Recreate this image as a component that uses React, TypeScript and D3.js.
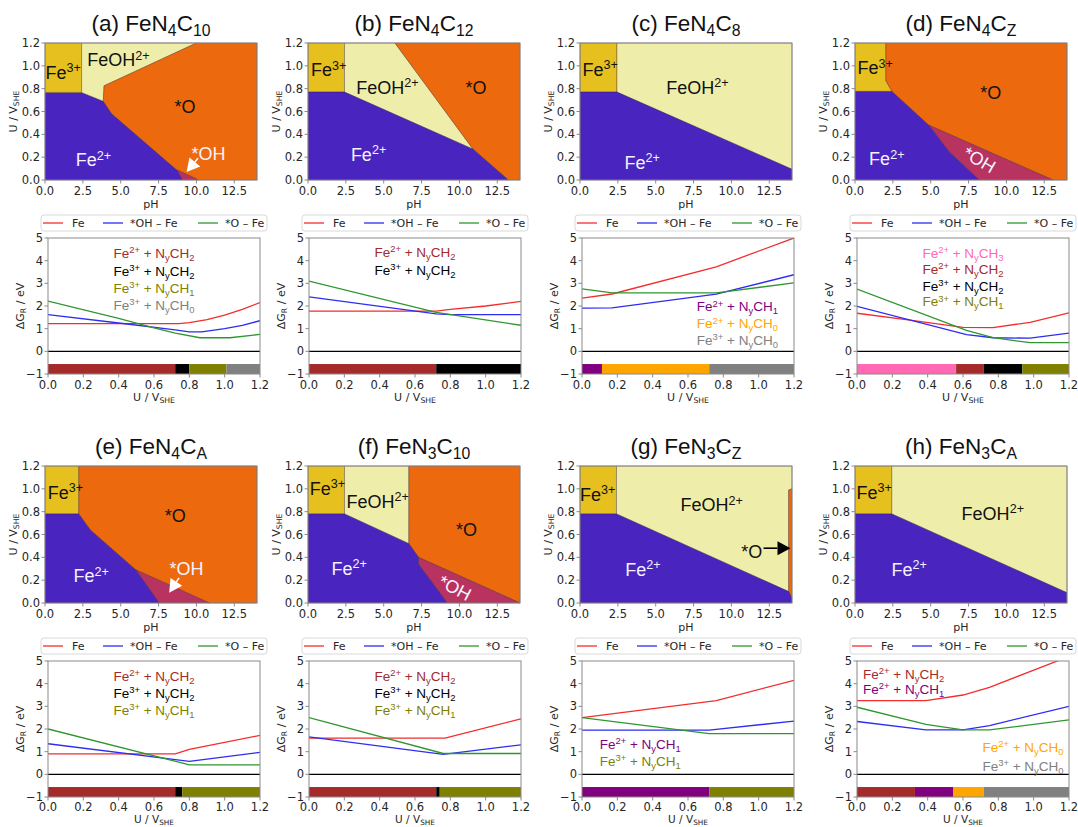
import React from "react";
import * as d3 from "d3";

type Pt = [number, number];

const FONT_TXT = "'Liberation Sans', Arial, sans-serif";
const FONT_AX = "'DejaVu Sans', sans-serif";

const phTicks = [0, 2.5, 5, 7.5, 10, 12.5];
const uTicks = [0, 0.2, 0.4, 0.6, 0.8, 1.0, 1.2];
const dgTicks = [-1, 0, 1, 2, 3, 4, 5];

const titles = [
  "(a) FeN_{4}C_{10}",
  "(b) FeN_{4}C_{12}",
  "(c) FeN_{4}C_{8}",
  "(d) FeN_{4}C_{Z}",
  "(e) FeN_{4}C_{A}",
  "(f) FeN_{3}C_{10}",
  "(g) FeN_{3}C_{Z}",
  "(h) FeN_{3}C_{A}",
];

const regionNames = ["Fe3+", "FeOH2+", "*O", "Fe2+", "*OH"];
const regionColors = ["#e6c01e", "#eeeeaa", "#ec6a0d", "#4a24be", "#b8335f"];
const regionColor = d3.scaleOrdinal<string, string>(regionNames, regionColors);

const species = [
  "Fe^{2+} + N_{y}CH_{3}",
  "Fe^{2+} + N_{y}CH_{2}",
  "Fe^{3+} + N_{y}CH_{2}",
  "Fe^{3+} + N_{y}CH_{1}",
  "Fe^{3+} + N_{y}CH_{0}",
  "Fe^{2+} + N_{y}CH_{1}",
  "Fe^{2+} + N_{y}CH_{0}",
];
const speciesColors = ["#ff69b4", "#a52a2a", "#000000", "#808000", "#808080", "#800080", "#ffa500"];
const speciesColor = d3.scaleOrdinal<string, string>(species, speciesColors);

const seriesNames = ["Fe", "*OH – Fe", "*O – Fe"];
const seriesColors = ["#f42c2c", "#2c2cf4", "#2f962f"];

// ---------- Pourbaix regions (pH, U) ----------
const regionsA: [string, Pt[]][] = [
  ["Fe2+", [[0, 0], [0, 0.767], [2.42, 0.767], [3.85, 0.69], [4.41, 0.58], [8.71, 0.088], [9.1, 0]]],
  ["Fe3+", [[0, 0.767], [0, 1.2], [2.42, 1.2], [2.42, 0.767]]],
  ["FeOH2+", [[2.42, 0.767], [2.42, 1.2], [10.0, 1.2], [3.9, 0.825], [3.85, 0.69]]],
  ["*O", [[3.9, 0.825], [10.0, 1.2], [14, 1.2], [14, 0], [10.14, 0], [8.71, 0.088], [4.41, 0.58], [3.85, 0.69]]],
  ["*OH", [[8.71, 0.088], [10.14, 0], [9.1, 0]]],
];
const regionsB: [string, Pt[]][] = [
  ["Fe3+", [[0, 0.77], [0, 1.2], [2.41, 1.2], [2.41, 0.77]]],
  ["FeOH2+", [[2.41, 0.77], [2.41, 1.2], [5.74, 1.2], [10.9, 0.27]]],
  ["*O", [[5.74, 1.2], [14, 1.2], [14, 0], [13.23, 0], [10.9, 0.27]]],
  ["Fe2+", [[0, 0], [0, 0.77], [2.41, 0.77], [10.9, 0.27], [13.23, 0]]],
];
const regionsC: [string, Pt[]][] = [
  ["Fe3+", [[0, 0.77], [0, 1.2], [2.44, 1.2], [2.44, 0.77]]],
  ["FeOH2+", [[2.44, 0.77], [2.44, 1.2], [14, 1.2], [14, 0.094]]],
  ["Fe2+", [[0, 0], [0, 0.77], [2.44, 0.77], [14, 0.094], [14, 0]]],
];
const regionsD: [string, Pt[]][] = [
  ["Fe3+", [[0, 0.776], [0, 1.2], [2.04, 1.2], [2.04, 0.87], [2.44, 0.776]]],
  ["*O", [[2.04, 1.2], [14, 1.2], [14, 0], [13.07, 0], [4.87, 0.48], [2.44, 0.776], [2.04, 0.87]]],
  ["*OH", [[4.87, 0.48], [13.07, 0], [8.2, 0], [6.2, 0.25]]],
  ["Fe2+", [[0, 0], [0, 0.776], [2.44, 0.776], [4.87, 0.48], [6.2, 0.25], [8.2, 0]]],
];
const regionsE: [string, Pt[]][] = [
  ["Fe3+", [[0, 0.78], [0, 1.2], [2.23, 1.2], [2.23, 0.78]]],
  ["*O", [[2.23, 1.2], [14, 1.2], [14, 0], [10.86, 0], [6.0, 0.29], [2.99, 0.64], [2.23, 0.78]]],
  ["*OH", [[6.0, 0.29], [10.86, 0], [7.54, 0]]],
  ["Fe2+", [[0, 0], [0, 0.78], [2.23, 0.78], [2.99, 0.64], [6.0, 0.29], [7.54, 0]]],
];
const regionsF: [string, Pt[]][] = [
  ["Fe3+", [[0, 0.78], [0, 1.2], [2.41, 1.2], [2.41, 0.78]]],
  ["FeOH2+", [[2.41, 0.78], [2.41, 1.2], [6.66, 1.2], [6.66, 0.52]]],
  ["*O", [[6.66, 1.2], [14, 1.2], [14, 0], [7.3, 0.4], [6.66, 0.52]]],
  ["*OH", [[7.3, 0.4], [14, 0], [9.2, 0], [7.3, 0.34]]],
  ["Fe2+", [[0, 0], [0, 0.78], [2.41, 0.78], [6.66, 0.52], [7.3, 0.4], [7.3, 0.34], [9.2, 0]]],
];
const regionsG: [string, Pt[]][] = [
  ["Fe3+", [[0, 0.78], [0, 1.2], [2.41, 1.2], [2.41, 0.78]]],
  ["FeOH2+", [[2.41, 0.78], [2.41, 1.2], [14, 1.2], [14, 1.0], [13.78, 0.99], [13.78, 0.1]]],
  ["*O", [[13.78, 0.99], [14, 1.0], [14, 0.04], [13.78, 0.1]]],
  ["Fe2+", [[0, 0], [0, 0.78], [2.41, 0.78], [13.78, 0.1], [14, 0.04], [14, 0]]],
];
const regionsH: [string, Pt[]][] = [
  ["Fe3+", [[0, 0.78], [0, 1.2], [2.43, 1.2], [2.43, 0.78]]],
  ["FeOH2+", [[2.43, 0.78], [2.43, 1.2], [14, 1.2], [14, 0.09]]],
  ["Fe2+", [[0, 0], [0, 0.78], [2.43, 0.78], [14, 0.09], [14, 0]]],
];

// region labels: text, pH, U, white?, rotation
const labelsA: [string, number, number, boolean, number][] = [
  ["Fe^{3+}", 1.2, 0.94, false, 0], ["FeOH^{2+}", 4.85, 1.05, false, 0], ["*O", 9.25, 0.64, false, 0],
  ["Fe^{2+}", 3.2, 0.175, true, 0], ["*OH", 10.8, 0.23, true, 0],
];
const labelsB: [string, number, number, boolean, number][] = [
  ["Fe^{3+}", 1.37, 0.96, false, 0], ["FeOH^{2+}", 5.25, 0.81, false, 0], ["*O", 11.1, 0.81, false, 0],
  ["Fe^{2+}", 4.0, 0.22, true, 0],
];
const labelsC: [string, number, number, boolean, number][] = [
  ["Fe^{3+}", 1.33, 0.965, false, 0], ["FeOH^{2+}", 7.75, 0.81, false, 0], ["Fe^{2+}", 4.1, 0.15, true, 0],
];
const labelsD: [string, number, number, boolean, number][] = [
  ["Fe^{3+}", 1.33, 0.98, false, 0], ["*O", 8.97, 0.76, false, 0], ["Fe^{2+}", 2.1, 0.18, true, 0],
  ["*OH", 8.2, 0.175, true, 30],
];
const labelsE: [string, number, number, boolean, number][] = [
  ["Fe^{3+}", 1.35, 0.965, false, 0], ["*O", 8.6, 0.76, false, 0], ["Fe^{2+}", 3.05, 0.235, true, 0],
  ["*OH", 9.35, 0.3, true, 0],
];
const labelsF: [string, number, number, boolean, number][] = [
  ["Fe^{3+}", 1.28, 1.0, false, 0], ["FeOH^{2+}", 4.6, 0.885, false, 0], ["*O", 10.46, 0.64, false, 0],
  ["Fe^{2+}", 2.72, 0.3, true, 0], ["*OH", 9.7, 0.13, true, 28],
];
const labelsG: [string, number, number, boolean, number][] = [
  ["Fe^{3+}", 1.17, 0.95, false, 0], ["FeOH^{2+}", 8.7, 0.855, false, 0], ["Fe^{2+}", 4.16, 0.29, true, 0],
  ["*O", 11.35, 0.444, false, 0],
];
const labelsH: [string, number, number, boolean, number][] = [
  ["Fe^{3+}", 1.26, 0.965, false, 0], ["FeOH^{2+}", 9.1, 0.78, false, 0], ["Fe^{2+}", 3.58, 0.29, true, 0],
];

// arrows: from (pH,U) to (pH,U), colour
const arrowA: [Pt, Pt, string] | null = [[10.1, 0.19], [9.35, 0.07], "#ffffff"];
const arrowE: [Pt, Pt, string] | null = [[8.85, 0.22], [8.2, 0.09], "#ffffff"];
const arrowG: [Pt, Pt, string] | null = [[12.12, 0.48], [13.9, 0.48], "#000000"];

// ---------- Reaction energies (U, dG) ----------
const feA: Pt[] = [[0, 1.22], [0.74, 1.22], [0.8, 1.27], [0.9, 1.4], [1.0, 1.6], [1.1, 1.85], [1.2, 2.15]];
const ohA: Pt[] = [[0, 1.62], [0.4, 1.25], [0.72, 0.95], [0.8, 0.86], [0.87, 0.86], [1.0, 1.0], [1.1, 1.15], [1.2, 1.35]];
const oA: Pt[] = [[0, 2.22], [0.4, 1.45], [0.6, 1.03], [0.72, 0.8], [0.86, 0.6], [1.03, 0.6], [1.2, 0.75]];

const feB: Pt[] = [[0, 1.77], [0.72, 1.77], [0.8, 1.85], [1.0, 2.0], [1.2, 2.2]];
const ohB: Pt[] = [[0, 2.4], [0.72, 1.65], [0.8, 1.62], [1.2, 1.62]];
const oB: Pt[] = [[0, 3.1], [0.72, 1.72], [1.2, 1.15]];

const feC: Pt[] = [[0, 2.35], [0.17, 2.53], [0.76, 3.73], [1.2, 5.0]];
const ohC: Pt[] = [[0, 1.91], [0.17, 1.92], [0.76, 2.52], [1.2, 3.38]];
const oC: Pt[] = [[0, 2.76], [0.17, 2.58], [0.76, 2.58], [1.2, 3.02]];

const feD: Pt[] = [[0, 1.68], [0.3, 1.38], [0.6, 1.06], [0.77, 1.05], [0.98, 1.28], [1.2, 1.7]];
const ohD: Pt[] = [[0, 1.98], [0.62, 0.74], [0.77, 0.6], [0.98, 0.58], [1.2, 0.8]];
const oD: Pt[] = [[0, 2.75], [0.62, 0.92], [0.77, 0.6], [0.98, 0.38], [1.2, 0.38]];

const feE: Pt[] = [[0, 0.9], [0.72, 0.9], [0.8, 1.1], [1.2, 1.72]];
const ohE: Pt[] = [[0, 1.35], [0.8, 0.57], [1.2, 0.97]];
const oE: Pt[] = [[0, 2.0], [0.8, 0.42], [1.2, 0.42]];

const feF: Pt[] = [[0, 1.6], [0.77, 1.6], [1.2, 2.45]];
const ohF: Pt[] = [[0, 1.65], [0.76, 0.88], [1.2, 1.3]];
const oF: Pt[] = [[0, 2.5], [0.76, 0.92], [1.2, 0.92]];

const feG: Pt[] = [[0, 2.5], [0.76, 3.25], [1.2, 4.15]];
const ohG: Pt[] = [[0, 1.95], [0.72, 1.95], [1.2, 2.35]];
const oG: Pt[] = [[0, 2.5], [0.72, 1.8], [1.2, 1.8]];

const feH: Pt[] = [[0, 3.25], [0.39, 3.25], [0.6, 3.5], [0.75, 3.84], [1.2, 5.2]];
const ohH: Pt[] = [[0, 2.33], [0.39, 1.96], [0.6, 1.96], [0.75, 2.15], [1.2, 3.0]];
const oH: Pt[] = [[0, 2.96], [0.39, 2.2], [0.6, 1.96], [0.75, 1.96], [1.2, 2.4]];

// stable-phase bars: species, U start, U end
const barsA: [string, number, number][] = [[species[1], 0, 0.72], [species[2], 0.72, 0.8], [species[3], 0.8, 1.01], [species[4], 1.01, 1.2]];
const barsB: [string, number, number][] = [[species[1], 0, 0.72], [species[2], 0.72, 1.2]];
const barsC: [string, number, number][] = [[species[5], 0, 0.113], [species[6], 0.113, 0.72], [species[4], 0.72, 1.2]];
const barsD: [string, number, number][] = [[species[0], 0, 0.561], [species[1], 0.561, 0.718], [species[2], 0.718, 0.936], [species[3], 0.936, 1.2]];
const barsE: [string, number, number][] = [[species[1], 0, 0.72], [species[2], 0.72, 0.76], [species[3], 0.76, 1.2]];
const barsF: [string, number, number][] = [[species[1], 0, 0.72], [species[2], 0.72, 0.74], [species[3], 0.74, 1.2]];
const barsG: [string, number, number][] = [[species[5], 0, 0.72], [species[3], 0.72, 1.2]];
const barsH: [string, number, number][] = [[species[1], 0, 0.328], [species[5], 0.328, 0.546], [species[6], 0.546, 0.717], [species[4], 0.717, 1.2]];

// species notes: species, U, dG (baseline), anchor
const notesA: [string, number, number, string][] = [
  [species[1], 0.6, 4.12, "middle"], [species[2], 0.6, 3.32, "middle"], [species[3], 0.6, 2.57, "middle"], [species[4], 0.6, 1.82, "middle"],
];
const notesB: [string, number, number, string][] = [[species[1], 0.6, 4.16, "middle"], [species[2], 0.6, 3.37, "middle"]];
const notesC: [string, number, number, string][] = [
  [species[5], 0.65, 1.76, "start"], [species[6], 0.65, 1.01, "start"], [species[4], 0.65, 0.27, "start"],
];
const notesD: [string, number, number, string][] = [
  [species[0], 0.6, 4.12, "middle"], [species[1], 0.6, 3.42, "middle"], [species[2], 0.6, 2.68, "middle"], [species[3], 0.6, 1.98, "middle"],
];
const notesE: [string, number, number, string][] = [[species[1], 0.6, 4.12, "middle"], [species[2], 0.6, 3.37, "middle"], [species[3], 0.6, 2.62, "middle"]];
const notesF: [string, number, number, string][] = [[species[1], 0.6, 4.12, "middle"], [species[2], 0.6, 3.37, "middle"], [species[3], 0.6, 2.62, "middle"]];
const notesG: [string, number, number, string][] = [[species[5], 0.1, 1.12, "start"], [species[3], 0.1, 0.37, "start"]];
const notesH: [string, number, number, string][] = [
  [species[1], 0.034, 4.2, "start"], [species[5], 0.034, 3.55, "start"], [species[6], 0.71, 0.99, "start"], [species[4], 0.71, 0.16, "start"],
];

const panels = [
  { regions: regionsA, labels: labelsA, arrow: arrowA, lines: [feA, ohA, oA], bars: barsA, notes: notesA },
  { regions: regionsB, labels: labelsB, arrow: null, lines: [feB, ohB, oB], bars: barsB, notes: notesB },
  { regions: regionsC, labels: labelsC, arrow: null, lines: [feC, ohC, oC], bars: barsC, notes: notesC },
  { regions: regionsD, labels: labelsD, arrow: null, lines: [feD, ohD, oD], bars: barsD, notes: notesD },
  { regions: regionsE, labels: labelsE, arrow: arrowE, lines: [feE, ohE, oE], bars: barsE, notes: notesE },
  { regions: regionsF, labels: labelsF, arrow: null, lines: [feF, ohF, oF], bars: barsF, notes: notesF },
  { regions: regionsG, labels: labelsG, arrow: arrowG, lines: [feG, ohG, oG], bars: barsG, notes: notesG },
  { regions: regionsH, labels: labelsH, arrow: null, lines: [feH, ohH, oH], bars: barsH, notes: notesH },
];

// layout
const W = 1078, H = 827;
const pLeft = [45, 308, 580, 855];
const lLeft = [48, 309, 582, 857];
const rowOff = [0, 423];
const PW = 212, PH = 137, PT = 43;
const LW = 212, LH = 136, LT = 238;
const SPINE = "#8a8a8a";
const TICKC = "#262626";

// renders "Fe^{2+} + N_{y}CH_{2}" into tspans
function Rich({ s, size }: { s: string; size: number }) {
  const parts = s.split(/(\^\{[^}]*\}|_\{[^}]*\})/).filter((p) => p.length);
  let cur = 0;
  return (
    <>
      {parts.map((p, i) => {
        let txt = p, fs = size, off = 0;
        if (p.startsWith("^{")) { txt = p.slice(2, -1); fs = size * 0.7; off = -size * 0.36; }
        else if (p.startsWith("_{")) { txt = p.slice(2, -1); fs = size * 0.7; off = size * 0.22; }
        const dy = off - cur;
        cur = off;
        return <tspan key={i} dy={dy} fontSize={fs}>{txt}</tspan>;
      })}
    </>
  );
}

function Arrow({ a, b, color }: { a: Pt; b: Pt; color: string }) {
  const dx = b[0] - a[0], dy = b[1] - a[1];
  const len = Math.hypot(dx, dy);
  const ux = dx / len, uy = dy / len;
  const hl = 13, hw = 7;
  const bx = b[0] - ux * hl, by = b[1] - uy * hl;
  const head = [[b[0], b[1]], [bx - uy * hw, by + ux * hw], [bx + uy * hw, by - ux * hw]];
  return (
    <g>
      <line x1={a[0]} y1={a[1]} x2={bx} y2={by} stroke={color} strokeWidth={1.6} />
      <polygon points={head.map((p) => p.join(",")).join(" ")} fill={color} />
    </g>
  );
}

function Panel({ i }: { i: number }) {
  const p = panels[i];
  const col = i % 4, row = Math.floor(i / 4);
  const ro = rowOff[row];

  // Pourbaix diagram scales
  const x0 = pLeft[col];
  const px = d3.scaleLinear().domain([0, 14]).range([x0, x0 + PW]);
  const py = d3.scaleLinear().domain([0, 1.2]).range([ro + PT + PH, ro + PT]);
  const poly = d3.line<Pt>().x((d) => px(d[0])).y((d) => py(d[1]));

  // energy plot scales
  const l0 = lLeft[col];
  const lx = d3.scaleLinear().domain([0, 1.2]).range([l0, l0 + LW]);
  const ly = d3.scaleLinear().domain([-1, 5]).range([ro + LT + LH, ro + LT]);
  const path = d3.line<Pt>().x((d) => lx(d[0])).y((d) => ly(d[1]));
  const clipId = `clip${i}`;

  const legY = ro + LT - 15;
  const legItems = [
    { l: -5, t: 24 },
    { l: 55, t: 82 },
    { l: 150, t: 177 },
  ];
  const tickY = row === 0 ? 15 : 14;
  const xlabY = row === 0 ? ro + LT + LH + 27 : ro + LT + LH + 26;
  const xlabSize = row === 0 ? 11 : 10.5;

  return (
    <g>
      {/* title */}
      <text x={x0 + PW / 2} y={ro + 31} textAnchor="middle" fontFamily={FONT_TXT} fontSize={22.5} fill="#111">
        <Rich s={titles[i]} size={22.5} />
      </text>

      {/* regions */}
      {p.regions.map(([name, pts], k) => (
        <path key={k} d={poly(pts)! + "Z"} fill={regionColor(name)} stroke="rgba(40,20,40,0.55)" strokeWidth={0.6} strokeLinejoin="round" />
      ))}
      {p.labels.map(([t, a, b, white, rot], k) => (
        <text key={k} x={px(a)} y={py(b) + 6} textAnchor="middle" fontFamily={FONT_TXT} fontSize={18}
          fill={white ? "#f4f2ff" : "#111"} transform={rot ? `rotate(${rot},${px(a)},${py(b)})` : undefined}>
          <Rich s={t} size={18} />
        </text>
      ))}
      {p.arrow && (
        <Arrow a={[px(p.arrow[0][0]), py(p.arrow[0][1])]} b={[px(p.arrow[1][0]), py(p.arrow[1][1])]} color={p.arrow[2]} />
      )}
      <rect x={x0} y={ro + PT} width={PW} height={PH} fill="none" stroke={SPINE} strokeWidth={1} />
      {phTicks.map((t) => (
        <g key={t}>
          <line x1={px(t)} x2={px(t)} y1={ro + PT + PH} y2={ro + PT + PH + 3.5} stroke={SPINE} />
          <text x={px(t)} y={ro + PT + PH + 15} textAnchor="middle" fontFamily={FONT_AX} fontSize={11.5} fill={TICKC}>
            {t.toFixed(1)}
          </text>
        </g>
      ))}
      {uTicks.map((t) => (
        <g key={t}>
          <line x1={x0 - 3.5} x2={x0} y1={py(t)} y2={py(t)} stroke={SPINE} />
          <text x={x0 - 5} y={py(t) + 4} textAnchor="end" fontFamily={FONT_AX} fontSize={11.5} fill={TICKC}>
            {t.toFixed(1)}
          </text>
        </g>
      ))}
      <text x={x0 + PW / 2} y={ro + PT + PH + 28} textAnchor="middle" fontFamily={FONT_AX} fontSize={11} fill={TICKC}>pH</text>
      <text transform={`translate(${x0 - 28},${ro + PT + PH / 2}) rotate(-90)`} textAnchor="middle" fontFamily={FONT_AX} fontSize={11} fill={TICKC}>
        <Rich s="U / V_{SHE}" size={11} />
      </text>

      {/* legend */}
      <rect x={l0 - 7} y={ro + LT - 23} width={LW + 14} height={16} rx={3} fill="#fff" stroke="#cfcfcf" strokeWidth={0.8} />
      {legItems.map((it, k) => (
        <g key={k}>
          <line x1={l0 + it.l} x2={l0 + it.l + 20} y1={legY} y2={legY} stroke={seriesColors[k]} strokeWidth={1.3} />
          <text x={l0 + it.t} y={legY + 4} fontFamily={FONT_AX} fontSize={11} fill={TICKC}>{seriesNames[k]}</text>
        </g>
      ))}

      {/* energy plot */}
      <defs>
        <clipPath id={clipId}>
          <rect x={l0} y={ro + LT} width={LW} height={LH} />
        </clipPath>
      </defs>
      <g clipPath={`url(#${clipId})`}>
        {p.bars.map(([s, a, b], k) => (
          <rect key={k} x={lx(a)} y={ly(-0.56)} width={lx(b) - lx(a)} height={ly(-1) - ly(-0.56)} fill={speciesColor(s)} />
        ))}
        <line x1={l0} x2={l0 + LW} y1={ly(0)} y2={ly(0)} stroke="#000" strokeWidth={1.2} />
        {p.lines.map((d, k) => (
          <path key={k} d={path(d)!} fill="none" stroke={seriesColors[k]} strokeWidth={1.3} />
        ))}
      </g>
      {p.notes.map(([s, a, b, anchor], k) => (
        <text key={k} x={lx(a)} y={ly(b)} textAnchor={anchor as any} fontFamily={FONT_TXT} fontSize={13.5} fill={speciesColor(s)}>
          <Rich s={s} size={13.5} />
        </text>
      ))}
      <rect x={l0} y={ro + LT} width={LW} height={LH} fill="none" stroke={SPINE} strokeWidth={1} />
      {uTicks.map((t) => (
        <g key={t}>
          <line x1={lx(t)} x2={lx(t)} y1={ro + LT + LH} y2={ro + LT + LH + 3.5} stroke={SPINE} />
          <text x={lx(t)} y={ro + LT + LH + tickY} textAnchor="middle" fontFamily={FONT_AX} fontSize={11.5} fill={TICKC}>
            {t.toFixed(1)}
          </text>
        </g>
      ))}
      {dgTicks.map((t) => (
        <g key={t}>
          <line x1={l0 - 3.5} x2={l0} y1={ly(t)} y2={ly(t)} stroke={SPINE} />
          <text x={l0 - 5} y={ly(t) + 4} textAnchor="end" fontFamily={FONT_AX} fontSize={11.5} fill={TICKC}>
            {t < 0 ? `\u2212${-t}` : t}
          </text>
        </g>
      ))}
      <text x={l0 + LW / 2} y={xlabY} textAnchor="middle" fontFamily={FONT_AX} fontSize={xlabSize} fill={TICKC}>
        <Rich s="U / V_{SHE}" size={xlabSize} />
      </text>
      <text transform={`translate(${l0 - 24},${ro + LT + LH / 2}) rotate(-90)`} textAnchor="middle" fontFamily={FONT_AX} fontSize={11} fill={TICKC}>
        <Rich s="ΔG_{R} / eV" size={11} />
      </text>
    </g>
  );
}

export default function App() {
  return (
    <svg width={W} height={H} style={{ position: "absolute", left: 0, top: 0, background: "#fff" }}>
      <rect width={W} height={H} fill="#fff" />
      {panels.map((_, i) => (
        <Panel key={i} i={i} />
      ))}
    </svg>
  );
}
